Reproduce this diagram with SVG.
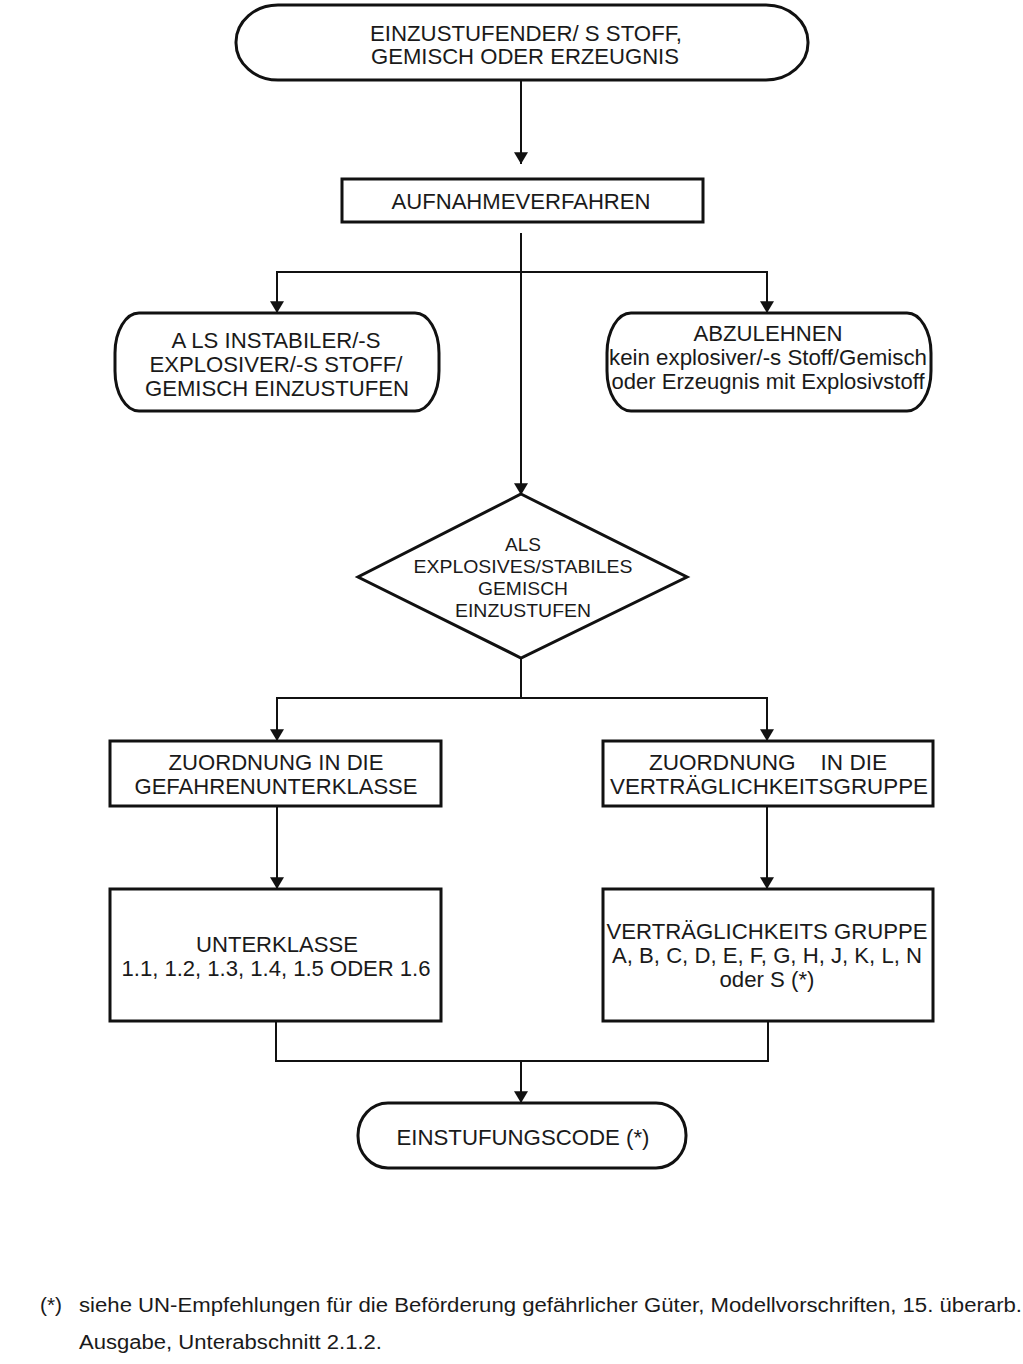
<svg xmlns="http://www.w3.org/2000/svg" width="1023" height="1364" viewBox="0 0 1023 1364">
<style>
.s{fill:#fff;stroke:#111;stroke-width:3}
.t{font-family:"Liberation Sans",Arial,sans-serif;font-size:21.5px;fill:#1a1a1a;text-anchor:middle;white-space:pre}
.d{font-size:18.5px}
.f{font-family:"Liberation Sans",Arial,sans-serif;font-size:19.5px;fill:#1a1a1a}
.c{fill:none;stroke:#111;stroke-width:2}
</style>
<defs>
<marker id="ah" viewBox="0 0 10 12" refX="10" refY="6" markerWidth="6.5" markerHeight="7" markerUnits="strokeWidth" orient="auto">
<path d="M0,0 L10,6 L0,12 z" fill="#111"/>
</marker>
</defs>
<rect width="1023" height="1364" fill="#fff"/>
<g id="connectors">
<path class="c" d="M521,80 V164" marker-end="url(#ah)"/>
<path class="c" d="M521,233 V495" marker-end="url(#ah)"/>
<path class="c" d="M521,272 H277 V313" marker-end="url(#ah)"/>
<path class="c" d="M521,272 H767 V313" marker-end="url(#ah)"/>
<path class="c" d="M521,658 V698 H277 V741" marker-end="url(#ah)"/>
<path class="c" d="M521,698 H767 V741" marker-end="url(#ah)"/>
<path class="c" d="M277,806 V889" marker-end="url(#ah)"/>
<path class="c" d="M767,806 V889" marker-end="url(#ah)"/>
<path class="c" d="M276,1021 V1061 H768 V1021"/>
<path class="c" d="M521,1061 V1103" marker-end="url(#ah)"/>
</g>
<g id="start">
<rect class="s" x="236" y="5" width="572" height="75" rx="42" ry="37"/>
<text class="t" x="526" y="41" textLength="312" lengthAdjust="spacingAndGlyphs">EINZUSTUFENDER/ S STOFF,</text>
<text class="t" x="525" y="64" textLength="308" lengthAdjust="spacingAndGlyphs">GEMISCH ODER ERZEUGNIS</text>
</g>
<g id="aufnahme">
<rect class="s" x="342" y="179" width="361" height="43"/>
<text class="t" x="521" y="209" textLength="259" lengthAdjust="spacingAndGlyphs">AUFNAHMEVERFAHREN</text>
</g>
<g id="instabil">
<rect class="s" x="115" y="313" width="324" height="98" rx="24" ry="40"/>
<text class="t" x="276" y="348" textLength="209" lengthAdjust="spacingAndGlyphs">A LS INSTABILER/-S</text>
<text class="t" x="276" y="372" textLength="253" lengthAdjust="spacingAndGlyphs">EXPLOSIVER/-S STOFF/</text>
<text class="t" x="277" y="396" textLength="264" lengthAdjust="spacingAndGlyphs">GEMISCH EINZUSTUFEN</text>
</g>
<g id="ablehnen">
<rect class="s" x="607" y="313" width="324" height="98" rx="24" ry="40"/>
<text class="t" x="768" y="341" textLength="149" lengthAdjust="spacingAndGlyphs">ABZULEHNEN</text>
<text class="t" x="768" y="365" textLength="318" lengthAdjust="spacingAndGlyphs">kein explosiver/-s Stoff/Gemisch</text>
<text class="t" x="768" y="389" textLength="313" lengthAdjust="spacingAndGlyphs">oder Erzeugnis mit Explosivstoff</text>
</g>
<g id="entscheidung">
<polygon class="s" points="521,494 687,577 521,658 358,577"/>
<text class="t d" x="523" y="551" textLength="36" lengthAdjust="spacingAndGlyphs">ALS</text>
<text class="t d" x="523" y="573" textLength="219" lengthAdjust="spacingAndGlyphs">EXPLOSIVES/STABILES</text>
<text class="t d" x="523" y="595" textLength="90" lengthAdjust="spacingAndGlyphs">GEMISCH</text>
<text class="t d" x="523" y="617" textLength="136" lengthAdjust="spacingAndGlyphs">EINZUSTUFEN</text>
</g>
<g id="zuordnung-unterklasse">
<rect class="s" x="110" y="741" width="331" height="65"/>
<text class="t" x="276" y="770" textLength="215" lengthAdjust="spacingAndGlyphs">ZUORDNUNG IN DIE</text>
<text class="t" x="276" y="794" textLength="283" lengthAdjust="spacingAndGlyphs">GEFAHRENUNTERKLASSE</text>
</g>
<g id="zuordnung-gruppe">
<rect class="s" x="603" y="741" width="330" height="65"/>
<text class="t" x="768" y="770" textLength="238" lengthAdjust="spacingAndGlyphs">ZUORDNUNG    IN DIE</text>
<text class="t" x="769" y="794" textLength="318" lengthAdjust="spacingAndGlyphs">VERTRÄGLICHKEITSGRUPPE</text>
</g>
<g id="unterklasse">
<rect class="s" x="110" y="889" width="331" height="132"/>
<text class="t" x="277" y="952" textLength="162" lengthAdjust="spacingAndGlyphs">UNTERKLASSE</text>
<text class="t" x="276" y="976" textLength="309" lengthAdjust="spacingAndGlyphs">1.1, 1.2, 1.3, 1.4, 1.5 ODER 1.6</text>
</g>
<g id="gruppe">
<rect class="s" x="603" y="889" width="330" height="132"/>
<text class="t" x="767" y="939" textLength="321" lengthAdjust="spacingAndGlyphs">VERTRÄGLICHKEITS GRUPPE</text>
<text class="t" x="767" y="963" textLength="310" lengthAdjust="spacingAndGlyphs">A, B, C, D, E, F, G, H, J, K, L, N</text>
<text class="t" x="767" y="987" textLength="95" lengthAdjust="spacingAndGlyphs">oder S (*)</text>
</g>
<g id="code">
<rect class="s" x="358" y="1103" width="328" height="65" rx="30" ry="32"/>
<text class="t" x="523" y="1145" textLength="253" lengthAdjust="spacingAndGlyphs">EINSTUFUNGSCODE (*)</text>
</g>
<g id="fussnote">
<text class="f" x="40" y="1312" textLength="22" lengthAdjust="spacingAndGlyphs">(*)</text>
<text class="f" x="79" y="1312" textLength="943" lengthAdjust="spacingAndGlyphs">siehe UN-Empfehlungen für die Beförderung gefährlicher Güter, Modellvorschriften, 15. überarb.</text>
<text class="f" x="79" y="1349" textLength="303" lengthAdjust="spacingAndGlyphs">Ausgabe, Unterabschnitt 2.1.2.</text>
</g>
</svg>
